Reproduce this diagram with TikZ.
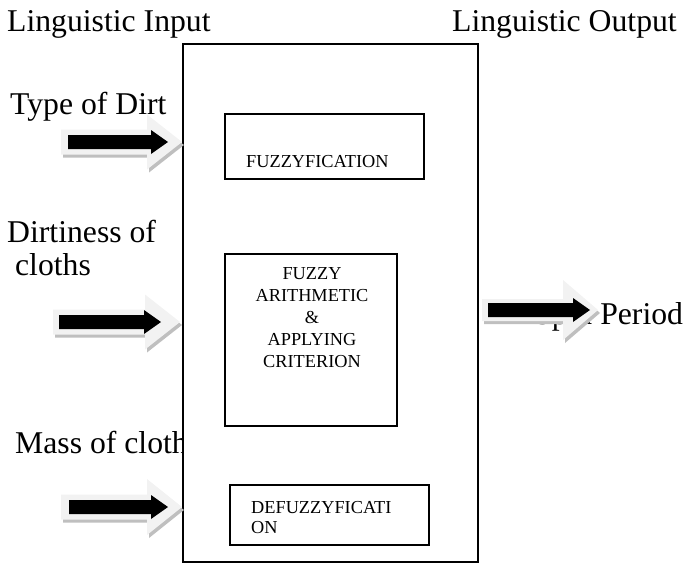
\documentclass[tikz,border=0pt]{standalone}
\usepackage{fontspec}
\setmainfont{Liberation Serif}
\definecolor{arrowlight}{HTML}{F2F2F2}
\definecolor{arrowshadow}{HTML}{BFBFBF}
\tikzset{
  lbl/.style={anchor=base west, inner sep=0pt, font=\fontsize{31.7}{34}\selectfont},
  stage/.style={draw, line width=1.5pt, fill=white, inner sep=0pt, anchor=north west},
  small/.style={inner sep=0pt, font=\fontsize{18.3}{22}\selectfont},
  lightarr/.style={fill=arrowlight},
  shadowarr/.style={fill=arrowshadow},
  blackarr/.style={fill=black},
}
% #1 light left x, #2 light tip x, #3 centre y, #4 black left x, #5 black tip x,
% #6 light shaft half height, #7 light head half height
\newcommand\fatarrow[7]{%
  \fill[shadowarr, shift={(2,3)}] (#1,{#3-#6}) -- ({#2-35},{#3-#6}) -- ({#2-35},{#3-#7}) -- (#2,#3)
     -- ({#2-35},{#3+#7}) -- ({#2-35},{#3+#6}) -- (#1,{#3+#6}) -- cycle;
  \fill[lightarr] (#1,{#3-#6}) -- ({#2-35},{#3-#6}) -- ({#2-35},{#3-#7}) -- (#2,#3)
     -- ({#2-35},{#3+#7}) -- ({#2-35},{#3+#6}) -- (#1,{#3+#6}) -- cycle;
  \fill[blackarr] (#4,{#3-7}) -- ({#5-17},{#3-7}) -- ({#5-17},{#3-12}) -- (#5,#3)
     -- ({#5-17},{#3+12}) -- ({#5-17},{#3+7}) -- (#4,{#3+7}) -- cycle;
}
\begin{document}
\begin{tikzpicture}[x=1pt, y=-1pt]
  \useasboundingbox (0,0) rectangle (690,562);
  % labels
  \node[lbl] (lin) at (7,31) {Linguistic Input};
  \node[lbl] (lout) at (452,31) {Linguistic Output};
  \node[lbl] (dirt) at (10,114) {Type of Dirt};
  \node[lbl] (dirtiness) at (7,242) {Dirtiness of};
  \node[lbl] (cloths) at (7,275) {\ cloths};
  \node[lbl] (mass) at (15,453) {Mass of cloth};
  \node[lbl] (spin) at (534,324) {Spin Period};
  % main system box
  \node[stage, minimum width=295pt, minimum height=518pt] (fis) at (182,43) {};
  % stages
  \node[stage, minimum width=199pt, minimum height=65pt] (fuzz) at (224,113) {};
  \node[small, anchor=base west] (fuzzt) at (246,167) {FUZZYFICATION};
  \node[stage, minimum width=172pt, minimum height=172pt] (arith) at (224,253) {};
  \node[small, anchor=north, align=center] (aritht) at (312,267)
    {FUZZY\\ARITHMETIC\\\&\\APPLYING\\CRITERION};
  \node[stage, minimum width=199pt, minimum height=60pt] (defuzz) at (229,484) {};
  \node[small, anchor=north west, align=left, font=\fontsize{18.3}{20}\selectfont] (defuzzt) at (251,501)
    {DEFUZZYFICATI\\ON};
  % block arrows
  \fatarrow{61}{182}{142}{68}{168}{12.5}{27.5}
  \fatarrow{53}{180}{322}{59}{161}{12.5}{27.5}
  \fatarrow{61}{182}{507}{69}{168}{12.5}{28}
  \fatarrow{482}{598}{310}{488}{590}{11}{30}
\end{tikzpicture}
\end{document}
